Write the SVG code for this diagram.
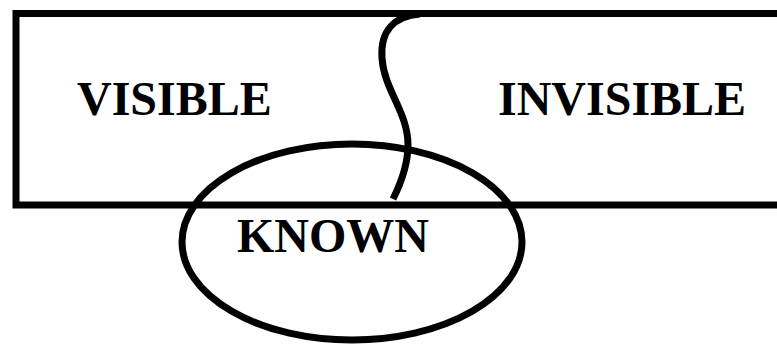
<svg xmlns="http://www.w3.org/2000/svg" width="777" height="345" viewBox="0 0 777 345">
<style>
.ln{fill:none;stroke:#000;stroke-width:7}
.lb{font-family:"Liberation Serif","Times New Roman",serif;font-weight:bold;font-size:48px;fill:#000}
</style>
<rect width="777" height="345" fill="#fff"/>
<g id="box">
<rect class="ln" x="16" y="13.5" width="800" height="191.5"/>
</g>
<g id="known-ellipse">
<ellipse class="ln" cx="352" cy="242" rx="170" ry="98"/>
</g>
<g id="connectors">
<path class="ln" d="M 420 14 C 395 16, 380 30, 382 58 C 384 90, 408 112, 408 145 C 408 165, 401 183, 393 199"/>
</g>
<g id="visible"><text class="lb" x="77" y="115">VISIBLE</text></g>
<g id="invisible"><text class="lb" x="498" y="115">INVISIBLE</text></g>
<g id="known"><text class="lb" x="237" y="252">KNOWN</text></g>
</svg>
